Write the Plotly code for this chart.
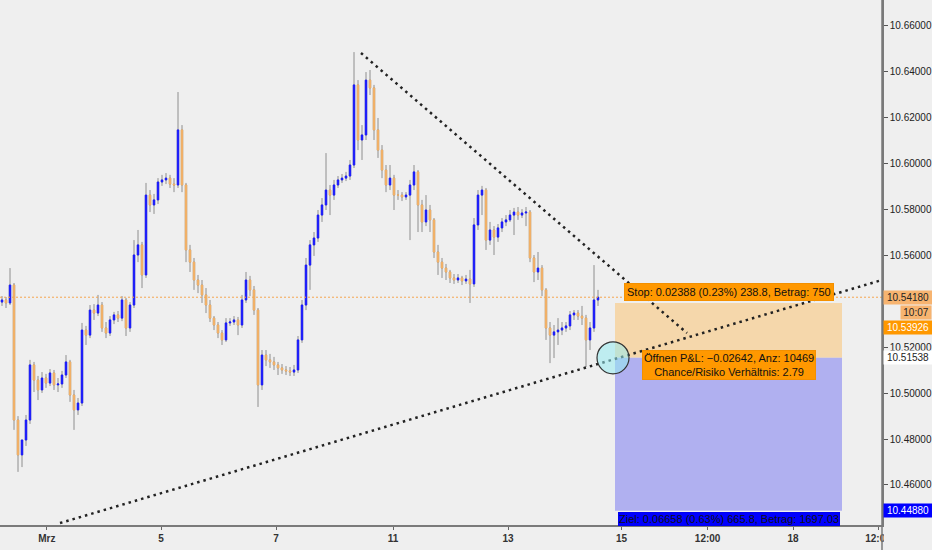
import plotly.graph_objects as go

close = [10.5406, 10.5393, 10.5471, 10.4883, 10.4731, 10.4796, 10.4883, 10.5123, 10.5057, 10.5014,
         10.5066, 10.5044, 10.5088, 10.5036, 10.5040, 10.5079, 10.5136, 10.4992, 10.4927, 10.4957,
         10.5275, 10.5253, 10.5362, 10.5349, 10.5384, 10.5284, 10.5262, 10.5319, 10.5341, 10.5327,
         10.5406, 10.5284, 10.5384, 10.5602, 10.5646, 10.5515, 10.5863, 10.5820, 10.5842, 10.5920,
         10.5929, 10.5937, 10.5911, 10.5907, 10.6147, 10.5907, 10.5624, 10.5571, 10.5493, 10.5471,
         10.5428, 10.5384, 10.5327, 10.5297, 10.5262, 10.5232, 10.5306, 10.5310, 10.5319, 10.5297,
         10.5406, 10.5493, 10.5450, 10.5362, 10.5036, 10.5166, 10.5145, 10.5136, 10.5123, 10.5110,
         10.5101, 10.5097, 10.5092, 10.5101, 10.5232, 10.5384, 10.5558, 10.5646, 10.5676, 10.5776,
         10.5820, 10.5885, 10.5863, 10.5907, 10.5929, 10.5937, 10.5946, 10.5994, 10.6343, 10.6103,
         10.6125, 10.6364, 10.6330, 10.6147, 10.6059, 10.5972, 10.5907, 10.5937, 10.5863, 10.5863,
         10.5855, 10.5863, 10.5907, 10.5964, 10.5820, 10.5746, 10.5798, 10.5755, 10.5615, 10.5571,
         10.5545, 10.5528, 10.5502, 10.5493, 10.5502, 10.5489, 10.5497, 10.5476, 10.5733, 10.5863,
         10.5885, 10.5667, 10.5711, 10.5680, 10.5720, 10.5746, 10.5755, 10.5776, 10.5789, 10.5776,
         10.5785, 10.5789, 10.5589, 10.5528, 10.5545, 10.5450, 10.5284, 10.5253, 10.5267, 10.5275,
         10.5284, 10.5293, 10.5341, 10.5349, 10.5336, 10.5327, 10.5232, 10.5284, 10.5406, 10.5418]

high = [10.5423, 10.5419, 10.5545, 10.5480, 10.4900, 10.4752, 10.4905, 10.5145, 10.5136, 10.5075,
        10.5092, 10.5084, 10.5105, 10.5101, 10.5066, 10.5097, 10.5166, 10.5145, 10.5014, 10.4979,
        10.5306, 10.5293, 10.5384, 10.5388, 10.5428, 10.5397, 10.5310, 10.5336, 10.5354, 10.5358,
        10.5423, 10.5415, 10.5397, 10.5667, 10.5711, 10.5659, 10.5916, 10.5885, 10.5868, 10.5937,
        10.5951, 10.5959, 10.5951, 10.5937, 10.6312, 10.6168, 10.5916, 10.5646, 10.5589, 10.5515,
        10.5493, 10.5458, 10.5406, 10.5336, 10.5310, 10.5275, 10.5327, 10.5327, 10.5336, 10.5332,
        10.5428, 10.5528, 10.5511, 10.5467, 10.5371, 10.5188, 10.5188, 10.5171, 10.5158, 10.5136,
        10.5127, 10.5118, 10.5114, 10.5123, 10.5249, 10.5406, 10.5589, 10.5667, 10.5702, 10.5798,
        10.5850, 10.6046, 10.5907, 10.5929, 10.5946, 10.5955, 10.5964, 10.6016, 10.6486, 10.6364,
        10.6168, 10.6399, 10.6408, 10.6343, 10.6199, 10.6081, 10.5994, 10.5994, 10.5951, 10.5885,
        10.5876, 10.5876, 10.5929, 10.5994, 10.5972, 10.5842, 10.5863, 10.5820, 10.5763, 10.5646,
        10.5589, 10.5563, 10.5537, 10.5519, 10.5519, 10.5511, 10.5515, 10.5537, 10.5763, 10.5885,
        10.5903, 10.5894, 10.5746, 10.5728, 10.5737, 10.5763, 10.5776, 10.5798, 10.5807, 10.5811,
        10.5802, 10.5811, 10.5798, 10.5602, 10.5615, 10.5558, 10.5458, 10.5310, 10.5297, 10.5327,
        10.5310, 10.5310, 10.5358, 10.5362, 10.5362, 10.5380, 10.5341, 10.5310, 10.5558, 10.5450]

low = [10.5380, 10.5371, 10.5384, 10.4840, 10.4657, 10.4678, 10.4770, 10.4866, 10.5005, 10.4970,
       10.5001, 10.5023, 10.5031, 10.5014, 10.5005, 10.5023, 10.5066, 10.4962, 10.4840, 10.4905,
       10.4944, 10.5210, 10.5240, 10.5319, 10.5336, 10.5267, 10.5240, 10.5249, 10.5301, 10.5310,
       10.5314, 10.5249, 10.5267, 10.5371, 10.5571, 10.5458, 10.5502, 10.5789, 10.5781, 10.5824,
       10.5903, 10.5911, 10.5894, 10.5876, 10.5894, 10.5876, 10.5571, 10.5528, 10.5450, 10.5436,
       10.5393, 10.5349, 10.5310, 10.5275, 10.5240, 10.5210, 10.5223, 10.5293, 10.5297, 10.5253,
       10.5284, 10.5393, 10.5423, 10.5341, 10.4940, 10.5014, 10.5118, 10.5110, 10.5101, 10.5079,
       10.5084, 10.5079, 10.5075, 10.5075, 10.5088, 10.5219, 10.5362, 10.5450, 10.5598, 10.5659,
       10.5746, 10.5798, 10.5776, 10.5842, 10.5894, 10.5916, 10.5924, 10.5929, 10.5981, 10.6059,
       10.6016, 10.6103, 10.6299, 10.6103, 10.6025, 10.5937, 10.5876, 10.5885, 10.5798, 10.5842,
       10.5837, 10.5842, 10.5667, 10.5885, 10.5702, 10.5702, 10.5728, 10.5702, 10.5589, 10.5515,
       10.5502, 10.5493, 10.5480, 10.5476, 10.5480, 10.5471, 10.5476, 10.5393, 10.5463, 10.5711,
       10.5776, 10.5624, 10.5646, 10.5602, 10.5659, 10.5702, 10.5728, 10.5746, 10.5689, 10.5755,
       10.5763, 10.5728, 10.5571, 10.5484, 10.5493, 10.5423, 10.5232, 10.5131, 10.5153, 10.5210,
       10.5253, 10.5267, 10.5275, 10.5319, 10.5319, 10.5297, 10.5114, 10.5188, 10.5267, 10.5380]

first_open = 10.5397
open_ = [first_open] + close[:-1]
bars = list(range(len(close)))

# Trendlinien: (Balken, Kurs)
down_x = [89.75, 171.25]
down_y = [10.6482, 10.5262]
up_x = [14.5, 220.0]
up_y = [10.4434, 10.5493]

# Short-Position
pos_start = 153.25
pos_end = 210.0
entry = 10.51538
stop = 10.53926
target = 10.44880
last_price = 10.54180

tick_pos = [11.2, 39.75, 68.5, 97.75, 126.5, 154.9, 176.4, 197.75, 219.0]
tick_text = ['Mrz', '5', '7', '11', '13', '15', '12:00', '18', '12:00']
price_ticks = [10.46, 10.48, 10.50, 10.52, 10.56, 10.58, 10.60, 10.62, 10.64, 10.66]

BG = '#efefef'
FONT = 'Liberation Sans, Arial, sans-serif'

fig = go.Figure()

# Dochte grau
fig.add_trace(go.Candlestick(
    x=bars, open=open_, high=high, low=low, close=close,
    increasing=dict(line=dict(color='#8e8e8e', width=1), fillcolor='#8e8e8e'),
    decreasing=dict(line=dict(color='#8e8e8e', width=1), fillcolor='#8e8e8e'),
    whiskerwidth=0, showlegend=False, hoverinfo='skip'))

# Koerper farbig
body_hi = [max(o, c) for o, c in zip(open_, close)]
body_lo = [min(o, c) for o, c in zip(open_, close)]
fig.add_trace(go.Candlestick(
    x=bars, open=open_, high=body_hi, low=body_lo, close=close,
    increasing=dict(line=dict(color='#1a1aff', width=1), fillcolor='#1a1aff'),
    decreasing=dict(line=dict(color='#f5b266', width=1), fillcolor='#f5b266'),
    whiskerwidth=0, showlegend=False, hoverinfo='skip'))

# Trendlinien gepunktet
for lx, ly in [(down_x, down_y), (up_x, up_y)]:
    fig.add_trace(go.Scatter(
        x=lx, y=ly, mode='lines',
        line=dict(color='#222222', width=2.5, dash='2.5px,4px'),
        showlegend=False, hoverinfo='skip'))

shapes = [
    # Stop-Zone / Ziel-Zone
    dict(type='rect', xref='x', yref='y', x0=pos_start, x1=pos_end, y0=entry, y1=stop,
         fillcolor='#f5d7ab', line=dict(width=0), layer='below'),
    dict(type='rect', xref='x', yref='y', x0=pos_start, x1=pos_end, y0=target, y1=entry,
         fillcolor='#b0b0f0', line=dict(width=0), layer='below'),
    # letzter Kurs
    dict(type='line', xref='paper', yref='y', x0=0, x1=1, y0=last_price, y1=last_price,
         line=dict(color='#f5a550', width=1, dash='2px,2px')),
    # Einstiegskreis
    dict(type='circle', xref='x', yref='y', xsizemode='pixel', ysizemode='pixel',
         xanchor=pos_start - 0.5, yanchor=entry, x0=-16, x1=16, y0=-16, y1=16,
         fillcolor='rgba(150,235,240,0.55)', line=dict(color='#333333', width=1.2)),
    # rechter Achsenrahmen bis unten
    dict(type='rect', xref='paper', yref='paper', x0=1.002, x1=1.035, y0=-0.07, y1=-0.012,
         fillcolor=BG, line=dict(width=0), layer='above'),
    dict(type='line', xref='paper', yref='paper', x0=1, x1=1, y0=-0.07, y1=1,
         line=dict(color='#7a7a7a', width=1.5)),
]

annotations = [
    dict(x=(pos_start + pos_end) / 2, y=stop, xref='x', yref='y', yanchor='bottom', yshift=2,
         text='Stop: 0.02388 (0.23%) 238.8, Betrag: 750', showarrow=False,
         bgcolor='#ff9800', bordercolor='#f39000', borderpad=2,
         font=dict(family=FONT, size=11, color='#111111')),
    dict(x=(pos_start + pos_end) / 2, y=entry, xref='x', yref='y', yanchor='top', yshift=8,
         text='Öffnen P&L: −0.02642, Anz: 10469<br>Chance/Risiko Verhältnis: 2.79',
         showarrow=False, bgcolor='#ff9800', bordercolor='#f39000', borderpad=1,
         font=dict(family=FONT, size=11, color='#111111')),
    dict(x=(pos_start + pos_end) / 2, y=target, xref='x', yref='y', yanchor='top', yshift=-1,
         text='Ziel: 0.06658 (0.63%) 665.8, Betrag: 1697.03', showarrow=False,
         bgcolor='#0000ff', bordercolor='#0000ee', borderpad=0,
         font=dict(family=FONT, size=11, color='#111111')),
]

# Preisschilder an der Achse
price_tags = [
    (last_price, '10.54180', '#f7b470', '#222222', 0),
    (stop, '10.53926', '#ff9800', '#ffffff', -24),
    (entry, '10.51538', '#ffffff', '#222222', 0),
    (target, '10.44880', '#0000ff', '#ffffff', 0),
]
for py, txt, bg, fc, ys in price_tags:
    annotations.append(dict(x=1, y=py, xref='paper', yref='y', xanchor='left', xshift=1,
                            yshift=ys, text=txt, showarrow=False, bgcolor=bg, width=46,
                            borderpad=1, font=dict(family=FONT, size=10, color=fc)))
annotations.append(dict(x=1, y=last_price, xref='paper', yref='y', xanchor='right', xshift=50,
                        yshift=-15, text='10:07', showarrow=False, bgcolor='#f7b470', width=28,
                        borderpad=1, font=dict(family=FONT, size=10, color='#222222')))

fig.update_layout(
    width=932, height=550,
    margin=dict(l=0, r=50, t=0, b=25),
    paper_bgcolor=BG, plot_bgcolor=BG,
    shapes=shapes, annotations=annotations,
    hovermode=False,
    boxgap=0.5,
    xaxis=dict(range=[-0.5, 220], rangeslider=dict(visible=False), showgrid=False,
               zeroline=False, showline=True, linecolor='#7a7a7a', linewidth=2,
               ticks='outside', ticklen=3, tickcolor='#666666',
               tickvals=tick_pos, ticktext=tick_text,
               tickfont=dict(family=FONT, size=10, color='#333333', weight='bold')),
    yaxis=dict(range=[10.44256, 10.6713], side='right', showgrid=False, zeroline=False,
               showline=True, linecolor='#7a7a7a', linewidth=1.5,
               ticks='outside', ticklen=4, tickcolor='#555555',
               tickvals=price_ticks, tickformat='.5f',
               tickfont=dict(family=FONT, size=10, color='#222222')),
)

# Seitenrand der HTML-Seite entfernen, damit 932x550 genau passt
fig.write_html('out.html', config={'displayModeBar': False},
               post_script="document.body.style.margin='0';"
               "document.body.style.background='%s';" % BG)
